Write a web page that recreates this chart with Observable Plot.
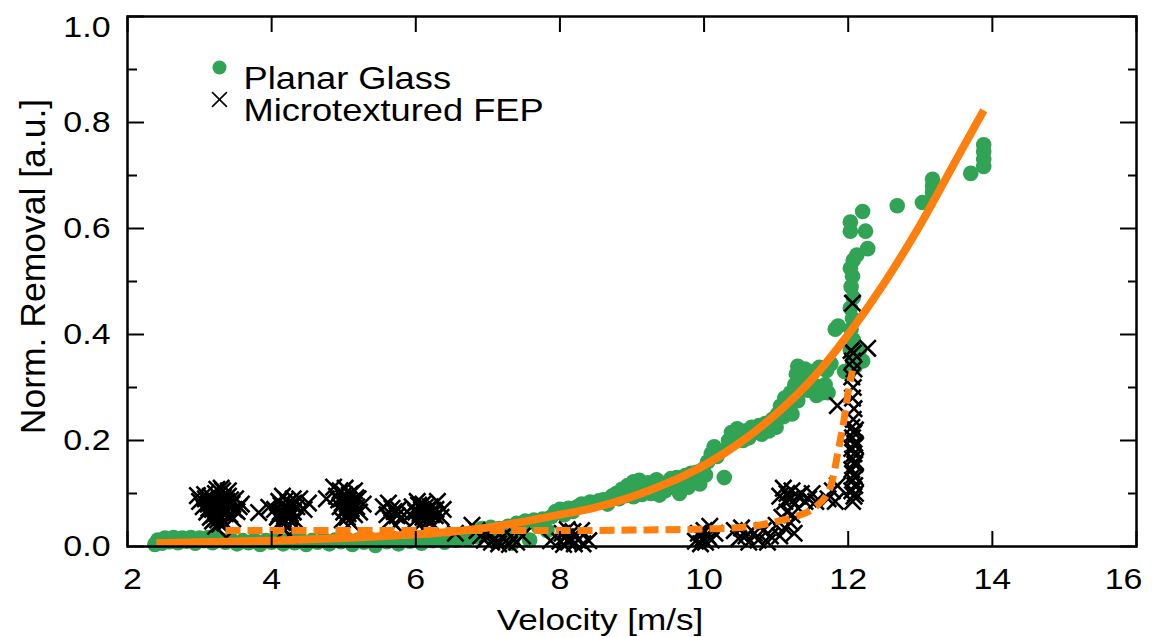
<!DOCTYPE html>
<html><head><meta charset="utf-8">
<script src="https://cdn.jsdelivr.net/npm/d3@7"></script>
<script src="https://cdn.jsdelivr.net/npm/@observablehq/plot@0.6"></script>
<style>body{margin:0;background:#fff;}#chart svg{display:block;}</style>
</head><body><div id="chart"></div>
<script>
// ---- tick values ----
const xTicks = [2, 4, 6, 8, 10, 12, 14, 16];
const yMajor = [0, 0.2, 0.4, 0.6, 0.8, 1.0];
const yMinor = [0.1, 0.3, 0.5, 0.7, 0.9];

// ---- labels ----
const seriesNames = ["Planar Glass", "Microtextured FEP"];
const xTitle = "Velocity [m/s]";
const yTitle = "Norm. Removal [a.u.]";

// ---- Planar Glass: [velocity, normalized removal] ----
const glassPoints = [
[2.38,0.004],[2.42,0.012],[2.48,0.006],[2.52,0.016],[2.58,0.009],[2.64,0.017],[2.7,0.007],[2.76,0.016],[2.82,0.01],[2.88,0.017],
[2.94,0.006],[3.0,0.016],[3.06,0.011],[3.12,0.017],[3.18,0.007],[3.24,0.016],[3.3,0.012],[3.36,0.008],[3.44,0.012],[3.52,0.005],
[3.6,0.011],[3.68,0.007],[3.76,0.012],[3.84,0.004],[3.92,0.011],[4.0,0.008],[4.08,0.013],[4.16,0.005],[4.24,0.012],[4.32,0.007],
[4.4,0.013],[4.48,0.004],[4.56,0.011],[4.64,0.008],[4.72,0.013],[4.8,0.005],[4.88,0.012],[4.96,0.009],[5.04,0.014],[5.12,0.004],
[5.2,0.012],[5.28,0.008],[5.36,0.014],[5.44,0.002],[5.52,0.012],[5.6,0.009],[5.68,0.015],[5.76,0.005],[5.84,0.013],[5.92,0.01],
[6.0,0.016],[6.08,0.006],[6.16,0.015],[6.24,0.011],[6.32,0.017],[6.4,0.008],[6.48,0.018],[6.56,0.012],[6.64,0.02],[6.72,0.014],
[6.8,0.028],[6.86,0.018],[6.92,0.034],[6.98,0.022],[7.04,0.036],[7.1,0.01],[7.16,0.034],[7.22,0.02],[7.28,0.038],[7.34,0.006],
[7.4,0.044],[7.46,0.03],[7.52,0.048],[7.58,0.012],[7.64,0.05],[7.7,0.038],[7.76,0.052],[7.82,0.03],[7.88,0.056],[7.94,0.066],
[8.0,0.07],[8.06,0.06],[8.12,0.072],[8.18,0.066],[8.24,0.075],[8.3,0.08],[8.36,0.078],[8.42,0.084],[8.48,0.082],[8.54,0.086],
[8.6,0.088],[8.66,0.08],[8.72,0.095],[8.78,0.1],[8.82,0.09],[8.86,0.108],[8.9,0.096],[8.94,0.115],[8.98,0.1],[9.02,0.122],
[9.02,0.094],[9.06,0.108],[9.1,0.125],[9.14,0.098],[9.18,0.115],[9.22,0.12],[9.26,0.1],[9.3,0.112],[9.34,0.126],[9.38,0.097],
[9.42,0.118],[9.46,0.105],[9.5,0.122],[9.54,0.128],[9.58,0.112],[9.62,0.13],[9.66,0.1],[9.7,0.125],[9.74,0.134],[9.78,0.112],
[9.82,0.138],[9.86,0.122],[9.9,0.14],[9.94,0.118],[9.98,0.145],[10.02,0.135],[10.05,0.16],[10.1,0.175],[10.14,0.188],[10.18,0.17],
[10.22,0.18],[10.28,0.13],[10.34,0.2],[10.38,0.215],[10.42,0.205],[10.46,0.222],[10.5,0.21],[10.54,0.2],[10.58,0.218],[10.62,0.205],
[10.66,0.225],[10.7,0.215],[10.76,0.228],[10.8,0.212],[10.85,0.232],[10.9,0.218],[10.95,0.24],[11.0,0.225],[11.02,0.25],[11.06,0.265],
[11.1,0.245],[11.12,0.28],[11.16,0.27],[11.2,0.29],[11.22,0.25],[11.26,0.305],[11.28,0.325],[11.3,0.275],[11.32,0.31],[11.36,0.3],
[11.4,0.315],[11.44,0.295],[11.48,0.32],[11.52,0.305],[11.56,0.285],[11.6,0.3],[11.64,0.29],[11.68,0.305],[11.72,0.29],[11.3,0.34],
[11.4,0.335],[11.5,0.33],[11.6,0.338],[11.7,0.332],[11.76,0.345],[11.82,0.41],[11.86,0.416],[11.95,0.33],[12.15,0.37],[12.2,0.35],
[12.02,0.33],[12.06,0.35],[12.03,0.37],[12.07,0.39],[12.04,0.41],[12.06,0.43],[12.03,0.45],[12.07,0.47],[12.04,0.49],[12.06,0.51],
[12.03,0.525],[12.07,0.54],[12.12,0.55],[12.08,0.36],[12.1,0.34],[12.03,0.595],[12.03,0.612],[12.2,0.632],[12.24,0.595],[12.27,0.562],
[12.68,0.643],[13.03,0.649],[13.17,0.668],[13.17,0.68],[13.17,0.693],[13.7,0.704],[13.88,0.717],[13.88,0.73],[13.88,0.745],[13.88,0.758]
];

// ---- Microtextured FEP: [velocity, normalized removal] ----
const fepPoints = [
[2.97,0.096],[3.0,0.085],[3.05,0.075],[3.08,0.09],[3.1,0.065],[3.12,0.08],[3.15,0.095],[3.15,0.055],[3.18,0.07],[3.2,0.085],
[3.2,0.06],[3.22,0.1],[3.24,0.108],[3.25,0.075],[3.25,0.05],[3.28,0.09],[3.3,0.065],[3.3,0.08],[3.32,0.105],[3.35,0.07],
[3.35,0.045],[3.38,0.085],[3.4,0.095],[3.42,0.06],[3.45,0.08],[3.48,0.07],[3.5,0.09],[3.55,0.075],[3.58,0.08],[3.22,0.038],
[3.37,0.017],[3.13,0.072],[3.17,0.083],[3.23,0.066],[3.27,0.058],[3.33,0.093],[3.36,0.062],[3.43,0.088],[3.46,0.052],[3.52,0.066],
[3.28,0.042],[3.18,0.048],[3.07,0.098],[3.4,0.105],[3.3,0.11],[3.21,0.077],[3.26,0.086],[3.31,0.073],[3.38,0.078],[3.14,0.088],
[3.82,0.064],[3.96,0.074],
[4.04,0.07],[4.08,0.055],[4.1,0.085],[4.12,0.065],[4.15,0.045],[4.15,0.095],[4.18,0.075],[4.2,0.06],[4.2,0.088],[4.22,0.04],
[4.25,0.07],[4.25,0.055],[4.28,0.08],[4.3,0.065],[4.32,0.05],[4.35,0.075],[4.39,0.09],[4.45,0.07],[4.51,0.082],[4.25,0.022],[4.18,0.03],
[4.13,0.078],[4.17,0.062],[4.23,0.082],[4.27,0.047],[4.22,0.072],[4.16,0.052],[4.3,0.09],[4.1,0.06],[4.2,0.068],[4.26,0.062],
[4.76,0.09],[4.86,0.112],[4.9,0.095],[4.95,0.075],[4.95,0.105],[5.0,0.065],[5.0,0.09],[5.02,0.11],[5.05,0.08],[5.05,0.055],
[5.08,0.098],[5.1,0.07],[5.1,0.1],[5.12,0.085],[5.15,0.06],[5.18,0.075],[5.2,0.09],[5.22,0.065],[5.27,0.08],[4.98,0.05],[5.1,0.045],
[4.98,0.082],[5.03,0.072],[5.07,0.088],[5.13,0.078],[5.17,0.092],[4.93,0.088],[5.06,0.062],[5.15,0.105],[5.01,0.098],[5.09,0.082],
[5.55,0.075],[5.6,0.06],[5.62,0.082],[5.65,0.05],[5.7,0.066],[5.72,0.04],[5.76,0.07],[5.8,0.055],[5.67,0.072],[5.74,0.058],
[5.92,0.06],[5.95,0.075],[6.0,0.05],[6.0,0.065],[6.02,0.085],[6.05,0.04],[6.08,0.07],[6.1,0.055],[6.1,0.08],[6.12,0.035],
[6.15,0.065],[6.18,0.05],[6.2,0.075],[6.22,0.06],[6.25,0.04],[6.28,0.07],[6.3,0.085],[6.35,0.055],[6.38,0.07],
[6.06,0.062],[6.13,0.074],[6.17,0.058],[6.24,0.068],[6.04,0.078],[6.2,0.045],[6.11,0.066],[6.27,0.058],
[6.55,0.025],[6.78,0.04],[6.85,0.03],[6.9,0.02],[6.95,0.012],[7.0,0.022],[7.05,0.008],[7.1,0.015],[7.15,0.005],[7.2,0.018],
[7.25,0.01],[7.3,0.004],[7.35,0.015],[7.4,0.008],[7.48,0.02],[7.87,0.011],[8.0,0.01],[8.03,0.025],[8.05,0.004],[8.08,0.018],
[8.1,0.032],[8.12,0.008],[8.15,0.015],[8.18,0.028],[8.2,0.005],[8.22,0.02],[8.25,0.012],[8.3,0.03],[8.32,0.005],[8.4,0.011],
[9.88,0.01],[9.92,0.025],[9.95,0.005],[9.98,0.015],[10.0,0.03],[10.02,0.008],[10.05,0.02],[10.08,0.038],[10.1,0.012],[10.15,0.025],
[10.42,0.03],[10.48,0.015],[10.52,0.035],[10.58,0.02],[10.62,0.008],[10.7,0.025],[10.75,0.012],[10.82,0.03],[10.88,0.008],[10.92,0.02],
[11.0,0.04],[11.05,0.02],[11.08,0.055],[11.12,0.035],[11.15,0.065],[11.2,0.045],[11.22,0.06],[11.25,0.025],
[11.05,0.095],[11.1,0.11],[11.12,0.085],[11.15,0.1],[11.2,0.09],[11.22,0.105],[11.25,0.08],[11.3,0.095],[11.35,0.1],[11.4,0.085],
[11.45,0.09],[11.5,0.1],[11.55,0.085],[11.72,0.09],[11.78,0.105],[11.82,0.085],[11.85,0.115],[11.85,0.266],
[12.06,0.085],[12.08,0.095],[12.05,0.105],[12.09,0.115],[12.06,0.125],[12.08,0.135],[12.05,0.145],[12.09,0.155],[12.06,0.165],[12.08,0.175],
[12.05,0.185],[12.09,0.195],[12.06,0.205],[12.08,0.215],[12.05,0.225],[12.07,0.24],[12.08,0.26],[12.06,0.28],[12.07,0.3],[12.05,0.32],
[12.08,0.335],[12.06,0.35],[12.07,0.365],[12.04,0.37],[12.1,0.1],[12.1,0.13],[12.1,0.16],[12.1,0.19],[12.1,0.22],[12.06,0.459],[12.27,0.374]
];

// ---- fitted curves ----
const glassFit = [
[2.4,0.006],[3.0,0.008],[4.0,0.011],[5.0,0.016],[6.0,0.023],[6.5,0.028],[7.0,0.036],[7.5,0.047],[8.0,0.060],[8.5,0.074],
[9.0,0.094],[9.5,0.120],[10.0,0.153],[10.5,0.196],[11.0,0.250],[11.5,0.316],[12.0,0.400],[12.5,0.497],[13.0,0.607],[13.5,0.730],[13.88,0.823]
];
const fepFit = [
[3.36,0.030],[4,0.030],[5,0.030],[6,0.030],[7,0.030],[8,0.030],[9,0.031],[10,0.033],[10.5,0.036],[10.8,0.041],
[11.06,0.049],[11.3,0.058],[11.52,0.072],[11.75,0.111],[11.87,0.187],[11.94,0.238],[12.01,0.30],[12.06,0.332]
];

const green = "#31a354";
const orange = "#ff7f0e";
const tickFont = 29;

const chart = Plot.plot({
  width: 1152,
  height: 637,
  marginLeft: 127,
  marginRight: 16,
  marginTop: 16,
  marginBottom: 91,
  x: {domain: [2, 16]},
  y: {domain: [0, 1]},
  style: {fontFamily: "'Liberation Sans', Arial, sans-serif", background: "#fff", color: "#000"},
  marks: [
    Plot.dot(glassPoints, {x: d => d[0], y: d => d[1], r: 7.8, fill: green}),
    Plot.dot(fepPoints, {x: d => d[0], y: d => d[1], r: 7.5, symbol: "times", stroke: "#000", strokeWidth: 2.6}),
    Plot.line(glassFit, {x: d => d[0], y: d => d[1], stroke: orange, strokeWidth: 8, strokeLinecap: "butt", curve: "monotone-x"}),
    Plot.line(fepFit, {x: d => d[0], y: d => d[1], stroke: orange, strokeWidth: 7, strokeLinecap: "butt", strokeDasharray: "15,7", curve: "monotone-x"}),
    Plot.frame({stroke: "#000", strokeWidth: 2.5}),
    // inward ticks
    Plot.axisX(xTicks, {anchor: "bottom", tickSize: -15, strokeWidth: 2, fill: "none", label: null}),
    Plot.axisX(xTicks, {anchor: "top", tickSize: -15, strokeWidth: 2, fill: "none", label: null}),
    Plot.axisY(yMajor, {anchor: "left", tickSize: -17, strokeWidth: 2, fill: "none", label: null}),
    Plot.axisY(yMinor, {anchor: "left", tickSize: -10, strokeWidth: 2, fill: "none", label: null}),
    Plot.axisY(yMajor, {anchor: "right", tickSize: -17, strokeWidth: 2, fill: "none", label: null}),
    Plot.axisY(yMinor, {anchor: "right", tickSize: -9, strokeWidth: 2, fill: "none", label: null}),
    // tick labels
    Plot.text(xTicks.slice(1, -1), {x: d => d, frameAnchor: "bottom", dy: 22, lineAnchor: "top", fontSize: tickFont, text: d => String(d)}),
    Plot.text(xTicks.slice(0, 1), {x: d => d, frameAnchor: "bottom", dy: 22, dx: 5, lineAnchor: "top", fontSize: tickFont, text: d => String(d)}),
    Plot.text(xTicks.slice(-1), {x: d => d, frameAnchor: "bottom", dy: 22, dx: -13, lineAnchor: "top", fontSize: tickFont, text: d => String(d)}),
    Plot.text(yMajor.slice(0, -1), {y: d => d, frameAnchor: "left", dx: -17, textAnchor: "end", fontSize: tickFont, text: d => d.toFixed(1)}),
    Plot.text(yMajor.slice(-1), {y: d => d, frameAnchor: "left", dx: -17, dy: 11, textAnchor: "end", fontSize: tickFont, text: d => d.toFixed(1)}),
    // axis titles
    Plot.text([xTitle], {frameAnchor: "bottom", dx: -32, dy: 62, lineAnchor: "top", textAnchor: "middle", fontSize: 30}),
    Plot.text([yTitle], {frameAnchor: "left", rotate: -90, dx: -94, dy: -15, textAnchor: "middle", fontSize: 35.5}),
    // legend
    Plot.dot([seriesNames[0]], {frameAnchor: "top-left", dx: 92, dy: 51, r: 7, fill: green}),
    Plot.dot([seriesNames[1]], {frameAnchor: "top-left", dx: 92, dy: 83, r: 6.8, symbol: "times", stroke: "#000", strokeWidth: 1.6}),
    Plot.text([seriesNames[0]], {frameAnchor: "top-left", dx: 116, dy: 50, textAnchor: "start", fontSize: 31}),
    Plot.text([seriesNames[1]], {frameAnchor: "top-left", dx: 116, dy: 82, textAnchor: "start", fontSize: 31})
  ]
});

document.getElementById("chart").append(chart);

// horizontal stretch of the (non-rotated) labels, as in the original figure
chart.querySelectorAll("text").forEach(t => {
  const tr = t.getAttribute("transform") || "";
  if (tr.includes("rotate")) return;
  const x = +(t.getAttribute("x") || 0);
  t.setAttribute("transform", `${tr} translate(${x},0) scale(1.17,1) translate(${-x},0)`);
});
</script></body></html>
